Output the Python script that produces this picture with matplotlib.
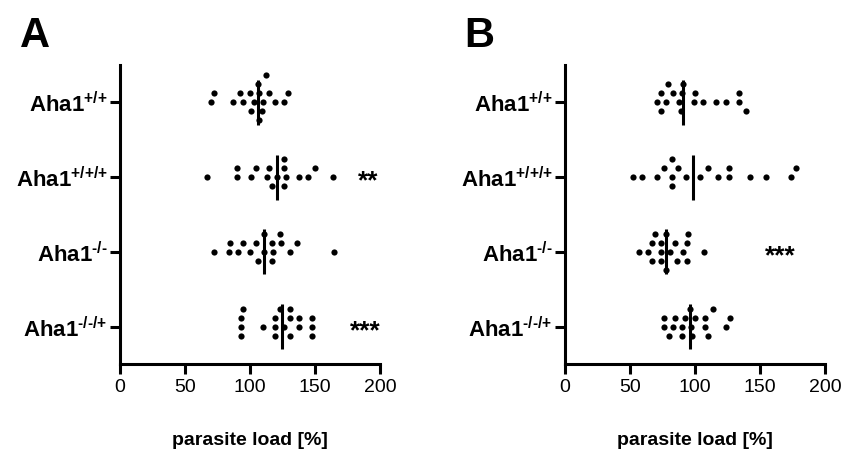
import matplotlib
matplotlib.use("Agg")
import matplotlib.pyplot as plt
import numpy as np

plt.rcParams['font.family'] = ['Liberation Sans', 'DejaVu Sans']
plt.rcParams['mathtext.fontset'] = 'custom'
plt.rcParams['mathtext.rm'] = 'Liberation Sans:bold'
plt.rcParams['mathtext.bf'] = 'Liberation Sans:bold'
plt.rcParams['mathtext.it'] = 'Liberation Sans:bold'

categories = [r'Aha1$^{\text{+/+}}$', r'Aha1$^{\text{+/+/+}}$',
              r'Aha1$^{\text{-/-}}$', r'Aha1$^{\text{-/-/+}}$']
xticks = [0, 50, 100, 150, 200]
xlabel = 'parasite load [%]'

# Panel A values
a_wt = [70, 72, 87, 92, 95, 100, 101, 103, 106, 107, 107, 109, 110, 112, 115, 119, 126, 129]
a_wtwt = [67, 90, 90, 101, 105, 113, 115, 117, 121, 126, 126, 126, 128, 138, 145, 150, 164]
a_ko = [72, 84, 85, 91, 95, 100, 105, 106, 111, 111, 117, 117, 118, 123, 124, 131, 136, 165]
a_kowt = [93, 93, 93, 95, 110, 119, 119, 119, 123, 126, 131, 131, 131, 138, 138, 148, 148, 148]
# Panel B values
b_wt = [71, 74, 74, 78, 79, 83, 88, 89, 90, 91, 99, 100, 106, 116, 124, 134, 134, 139]
b_wtwt = [52, 59, 71, 76, 82, 82, 82, 87, 93, 104, 110, 118, 126, 126, 142, 155, 174, 178]
b_ko = [57, 64, 67, 67, 69, 74, 74, 74, 78, 78, 81, 85, 86, 91, 94, 94, 95, 107]
b_kowt = [76, 76, 80, 83, 85, 90, 90, 92, 96, 97, 98, 100, 108, 108, 110, 114, 124, 127]

panelA = [a_wt, a_wtwt, a_ko, a_kowt]
panelB = [b_wt, b_wtwt, b_ko, b_kowt]
starsA = {1: '**', 3: '***'}
starsA_x = {1: 191, 3: 189}
starsB = {2: '***'}
starsB_x = {2: 166}


def swarm(values, dmin=7.0, step=0.12):
    vals = np.sort(np.asarray(values, dtype=float))
    placed = {}
    offs = []
    order = [0]
    for k in range(1, 10):
        order += [-k, k]
    for v in vals:
        for k in order:
            row = placed.setdefault(k, [])
            if all(abs(v - u) >= dmin for u in row):
                row.append(v)
                offs.append(k * step)
                break
    return vals, np.array(offs)


fig = plt.figure(figsize=(8.45, 4.59), dpi=100)
axA = fig.add_axes([120/845, 1-364/459, 260/845, 299/459])
axB = fig.add_axes([565/845, 1-364/459, 260/845, 299/459])


def draw(ax, groups, stars, stars_x):
    for i, g in enumerate(groups):
        vals, offs = swarm(g)
        ax.scatter(vals, i + offs, s=20, color='black', zorder=3, linewidths=0)
        med = np.median(g)
        ax.plot([med, med], [i - 0.3, i + 0.3], color='black', lw=2.2, zorder=4,
                solid_capstyle='butt')
    for i, s in stars.items():
        ax.text(stars_x[i], i + 0.06, s, fontsize=19, fontweight='bold',
                ha='center', va='center')
    ax.set_xlim(0, 200)
    ax.set_ylim(3.5, -0.5)
    ax.set_xticks(xticks)
    ax.set_xticklabels([str(t) for t in xticks], fontsize=14)
    ax.set_yticks(range(len(categories)))
    ax.set_yticklabels(categories, fontsize=16, fontweight='bold')
    for sp in ['top', 'right']:
        ax.spines[sp].set_visible(False)
    for sp in ['left', 'bottom']:
        ax.spines[sp].set_linewidth(2.2)
    ax.tick_params(axis='both', width=2.2, length=7, color='black')
    ax.tick_params(axis='y', pad=2)
    ax.tick_params(axis='x', pad=4)
    ax.set_xlabel(xlabel, fontsize=14, fontweight='bold', labelpad=26)


draw(axA, panelA, starsA, starsA_x)
draw(axB, panelB, starsB, starsB_x)
fig.text(20/845, 1-16/459, 'A', fontsize=30, fontweight='bold', ha='left', va='top')
fig.text(464/845, 1-16/459, 'B', fontsize=30, fontweight='bold', ha='left', va='top')

fig.savefig('out.png', dpi=100)
